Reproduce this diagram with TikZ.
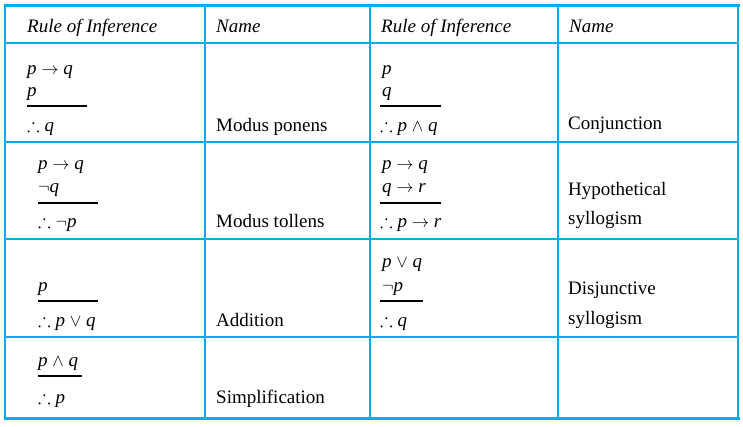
\documentclass[tikz,border=0pt]{standalone}
\usepackage{fontspec}
\setmainfont{Liberation Serif}
\usepackage{amssymb}
\definecolor{bl}{RGB}{0,174,239}
\newcommand{\mi}[1]{\textit{#1}}
\begin{document}
\begin{tikzpicture}[x=1pt,y=-1pt,
  grid/.style={draw=bl,line width=1.6pt},
  thick/.style={draw=bl,line width=3pt},
  txt/.style={anchor=base west,inner sep=0pt,font=\fontsize{19}{21}\selectfont},
  bar/.style={line width=1.1pt}]
\useasboundingbox (0,0) rectangle (743,427);
% grid
\draw[grid] (5,6) -- (5,418) (205,6) -- (205,418) (370,6) -- (370,418) (558,6) -- (558,418) (738,6) -- (738,418);
\draw[grid] (5,43) -- (738,43) (5,142) -- (738,142) (5,239) -- (738,239) (5,337) -- (738,337);
\draw[thick] (3.5,6) -- (739.5,6) (3.5,418) -- (739.5,418);
% header
\node[txt] (h1) at (27,33) {\itshape Rule of Inference};
\node[txt] (h2) at (216,33) {\itshape Name};
\node[txt] (h3) at (381,33) {\itshape Rule of Inference};
\node[txt] (h4) at (569,33) {\itshape Name};
% row 1
\node[txt] (a1) at (27,75) {\mi{p} $\rightarrow$ \mi{q}};
\node[txt] (a2) at (27,97) {\mi{p}};
\draw[bar] (27,106) -- (87,106);
\node[txt] (a3) at (27,132) {$\therefore$ \mi{q}};
\node[txt] (n1) at (216,132) {Modus ponens};
\node[txt] (b1) at (382,75) {\mi{p}};
\node[txt] (b2) at (382,97) {\mi{q}};
\draw[bar] (380,106) -- (441,106);
\node[txt] (b3) at (380,132) {$\therefore$ \mi{p} $\wedge$ \mi{q}};
\node[txt] (m1) at (568,130) {Conjunction};
% row 2
\node[txt] (c1) at (38,170) {\mi{p} $\rightarrow$ \mi{q}};
\node[txt] (c2) at (38,193) {$\neg$\mi{q}};
\draw[bar] (38,203) -- (98,203);
\node[txt] (c3) at (38,228) {$\therefore$ $\neg$\mi{p}};
\node[txt] (n2) at (216,228) {Modus tollens};
\node[txt] (d1) at (382,170) {\mi{p} $\rightarrow$ \mi{q}};
\node[txt] (d2) at (382,193) {\mi{q} $\rightarrow$ \mi{r}};
\draw[bar] (380,203) -- (441,203);
\node[txt] (d3) at (380,228) {$\therefore$ \mi{p} $\rightarrow$ \mi{r}};
\node[txt] (m2) at (568,196) {Hypothetical};
\node[txt] (m2b) at (568,225) {syllogism};
% row 3
\node[txt] (e1) at (38,291) {\mi{p}};
\draw[bar] (38,301) -- (98,301);
\node[txt] (e2) at (38,326) {$\therefore$ \mi{p} $\vee$ \mi{q}};
\node[txt] (n3) at (216,326) {Addition};
\node[txt] (f1) at (382,268) {\mi{p} $\vee$ \mi{q}};
\node[txt] (f2) at (382,291) {$\neg$\mi{p}};
\draw[bar] (380,301) -- (423,301);
\node[txt] (f3) at (380,326) {$\therefore$ \mi{q}};
\node[txt] (m3) at (568,294) {Disjunctive};
\node[txt] (m3b) at (568,324) {syllogism};
% row 4
\node[txt] (g1) at (38,366) {\mi{p} $\wedge$ \mi{q}};
\draw[bar] (38,376) -- (82,376);
\node[txt] (g2) at (38,403) {$\therefore$ \mi{p}};
\node[txt] (n4) at (216,403) {Simplification};
\end{tikzpicture}
\end{document}
